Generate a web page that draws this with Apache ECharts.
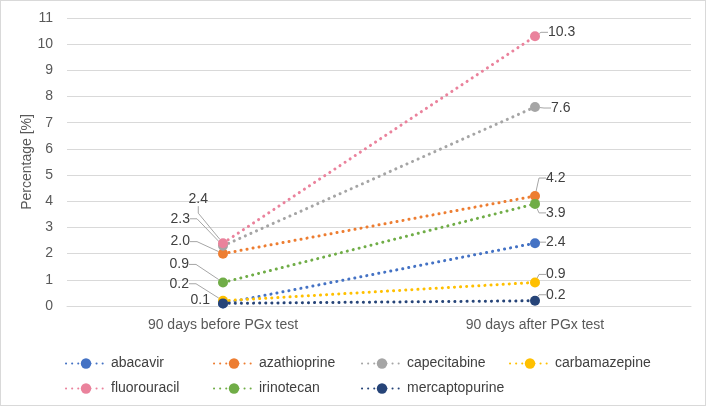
<!DOCTYPE html>
<html>
<head>
<meta charset="utf-8">
<script src="https://cdn.jsdelivr.net/npm/echarts@6/dist/echarts.min.js"></script>
<style>
html,body{margin:0;padding:0;background:#fff;}
#chart{position:absolute;left:0;top:0;width:708px;height:407px;}
#frame{position:absolute;left:0;top:0;width:706px;height:406px;box-sizing:border-box;border:1px solid #d9d9d9;pointer-events:none;}
</style>
</head>
<body>
<div id="chart"></div>
<div id="frame"></div>
<script>
const categories = ['90 days before PGx test', '90 days after PGx test'];
const drugs = ['abacavir', 'azathioprine', 'capecitabine', 'carbamazepine', 'fluorouracil', 'irinotecan', 'mercaptopurine'];
const beforeValues = [0.1, 2.0, 2.3, 0.2, 2.4, 0.9, 0.1];
const afterValues = [2.4, 4.2, 7.6, 0.9, 10.3, 3.9, 0.2];
const colors = ['#4472C4', '#ED7D31', '#A5A5A5', '#FFC000', '#EA829C', '#70AD47', '#264478'];
const yAxisName = 'Percentage [%]';

// label offsets relative to the point (style only); null = label hidden
const labelOffsets = {
  abacavir: [[-13, -3], [11, -1]],
  azathioprine: [[-33, -12], [11, -18]],
  capecitabine: [[-33, -27], [16, 1]],
  carbamazepine: [[-34, -17], [11, -8]],
  fluorouracil: [[-15, -44], [13, -4]],
  irinotecan: [[-34, -18], [11, 9]],
  mercaptopurine: [null, [11, -6]]
};
const noLeader = { abacavir: [true, false], mercaptopurine: [true, false] };

const chart = echarts.init(document.getElementById('chart'), null, { renderer: 'canvas' });
const FONT = 'Liberation Sans, Arial, sans-serif';

const series = drugs.map((name, i) => {
  const vals = [beforeValues[i], afterValues[i]];
  const data = vals.map((v, j) => {
    const off = labelOffsets[name][j];
    const hideLine = noLeader[name] && noLeader[name][j];
    return {
      value: v,
      label: { show: off !== null },
      labelLine: { show: off !== null && !hideLine }
    };
  });
  return {
    name: name,
    type: 'line',
    data: data,
    symbol: 'circle',
    symbolSize: 10,
    color: colors[i],
    itemStyle: { color: colors[i] },
    lineStyle: { color: colors[i], width: 3, type: [0.1, 6], cap: 'round' },
    label: {
      show: true,
      position: 'right',
      fontFamily: FONT,
      fontSize: 14,
      color: '#404040',
      formatter: p => Number(p.value).toFixed(1)
    },
    labelLine: {
      show: true,
      length2: 7,
      lineStyle: { color: '#A6A6A6', width: 1 }
    },
    labelLayout: function (params) {
      const off = labelOffsets[name][params.dataIndex];
      if (!off) return {};
      const cx = params.rect.x + params.rect.width / 2;
      const cy = params.rect.y + params.rect.height / 2;
      return {
        x: cx + off[0],
        y: cy + off[1],
        align: params.dataIndex === 0 ? 'right' : 'left',
        verticalAlign: 'middle'
      };
    },
    emphasis: { disabled: true },
    z: 2 + i
  };
});

chart.setOption({
  animation: false,
  color: colors,
  textStyle: { fontFamily: FONT },
  grid: { left: 67, right: 17, top: 18, bottom: 101, containLabel: false },
  xAxis: {
    type: 'category',
    data: categories,
    boundaryGap: true,
    axisLine: { show: true, lineStyle: { color: '#D9D9D9', width: 1 } },
    axisTick: { show: false },
    axisLabel: { color: '#595959', fontFamily: FONT, fontSize: 14, margin: 12 },
    splitLine: { show: false }
  },
  yAxis: {
    type: 'value',
    min: 0,
    max: 11,
    interval: 1,
    name: yAxisName,
    nameLocation: 'middle',
    nameGap: 33,
    nameMoveOverlap: false,
    nameTextStyle: { color: '#595959', fontFamily: FONT, fontSize: 14 },
    axisLine: { show: false },
    axisTick: { show: false },
    axisLabel: { color: '#595959', fontFamily: FONT, fontSize: 14, margin: 14 },
    splitLine: { show: true, lineStyle: { color: '#D9D9D9', width: 1 } }
  },
  legend: {
    data: drugs,
    left: 65,
    top: 352,
    padding: 0,
    width: 600,
    itemWidth: 40,
    itemHeight: 13,
    itemGap: 2,
    textStyle: { color: '#404040', fontFamily: FONT, fontSize: 14, width: 100, lineHeight: 23 }
  },
  series: series
});
</script>
</body>
</html>
